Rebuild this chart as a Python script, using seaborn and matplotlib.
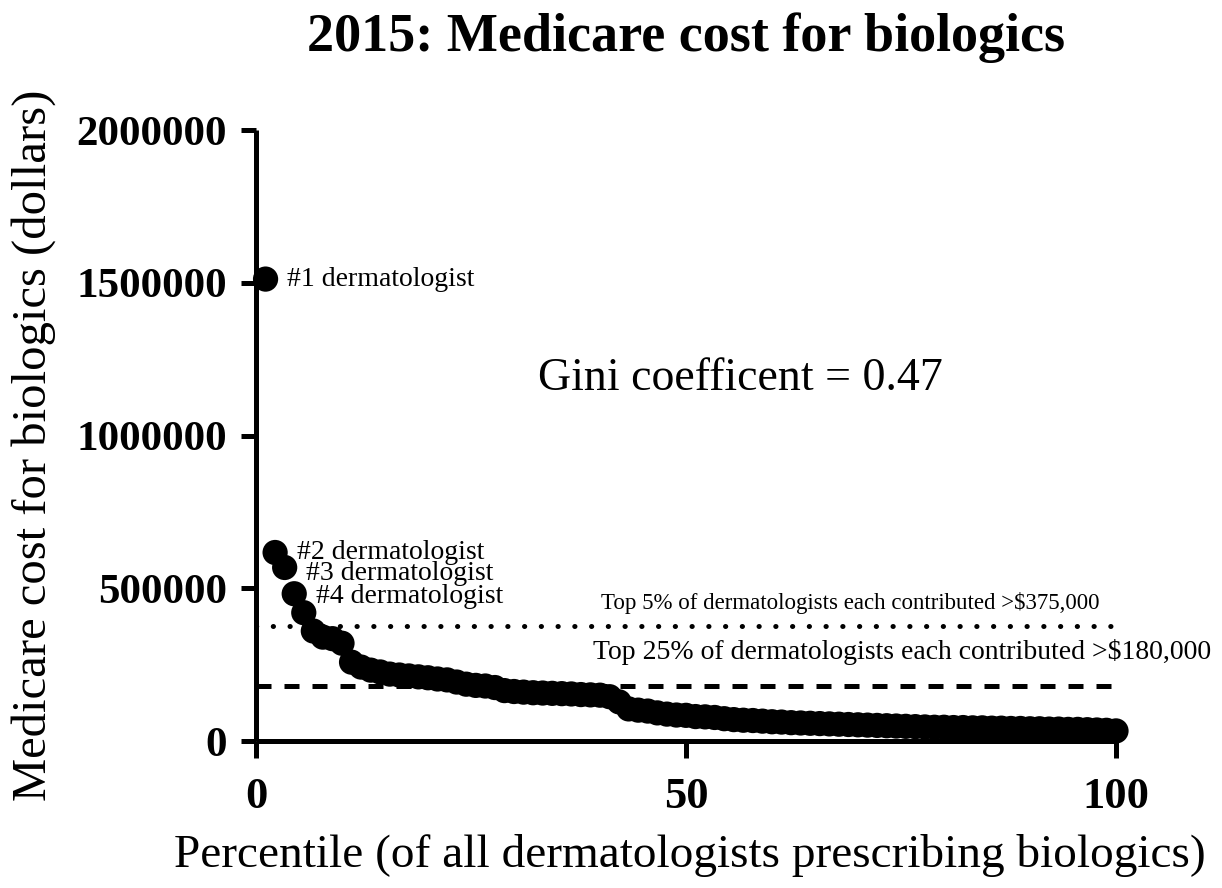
import numpy as np
import pandas as pd
import matplotlib
matplotlib.use("Agg")
import matplotlib.pyplot as plt
import seaborn as sns
from matplotlib.ticker import FixedLocator, StrMethodFormatter

# ---- data ----
cost = [
    1512000, 617000, 568000, 482000, 420000, 360000, 340000, 335000, 320000, 258000,
    242000, 232000, 226000, 219000, 216000, 213000, 210000, 207000, 203000, 200000,
    193000, 186000, 182000, 180000, 175000, 165000, 162000, 160000, 158000, 157000,
    156000, 155000, 154000, 152000, 151000, 150000, 145000, 128000, 105000, 101000,
    98000, 92000, 88000, 85000, 84000, 80000, 79000, 77000, 73000, 70000,
    68000, 67000, 65000, 63000, 62000, 60000, 59000, 58000, 57000, 56000,
    55000, 54000, 53000, 52000, 51000, 50000, 49000, 48000, 47000, 46000,
    45000, 45000, 44000, 44000, 43000, 43000, 42000, 42000, 41000, 41000,
    40000, 40000, 39000, 39000, 38000, 38000, 37000, 36000, 35000, 33000,
]
labels_top = ["#1 dermatologist", "#2 dermatologist", "#3 dermatologist", "#4 dermatologist"]
label_offsets_y = [0, 0, -4, -2]
thresholds = [375000, 180000]
threshold_texts = ["Top 5% of dermatologists each contributed >$375,000",
                   "Top 25% of dermatologists each contributed >$180,000"]
y_ticks = [0, 500000, 1000000, 1500000, 2000000]
x_ticks = [0, 50, 100]
title = "2015: Medicare cost for biologics"
xlabel = "Percentile (of all dermatologists prescribing biologics)"
ylabel = "Medicare cost for biologics (dollars)"
gini_text = "Gini coefficent = 0.47"

n = len(cost)
df = pd.DataFrame({"cost": cost})
df["rank"] = df["cost"].rank(ascending=False, method="first")
df["percentile"] = df["rank"] / n * 100

sns.set_theme(style="ticks")
plt.rcParams["font.family"] = ["Liberation Serif", "DejaVu Serif"]

fig = plt.figure(figsize=(12.22, 8.88), dpi=100)
ax = fig.add_axes([256 / 1222, 1 - 741 / 888, (1116 - 256) / 1222, (741 - 130) / 888])

lw = 3.6
ax.axhline(thresholds[0], color="black", lw=lw, linestyle=(0, (0.05, 3.3)),
           dash_capstyle="round", zorder=1)
ax.axhline(thresholds[1], color="black", lw=lw, linestyle=(0, (3.0, 2.6)), zorder=1)

sns.scatterplot(data=df, x="percentile", y="cost", ax=ax, color="black",
                s=330, edgecolor="none", linewidth=0, clip_on=False, zorder=3,
                legend=False)

ax.set_xlim(0, 100)
ax.set_ylim(0, 2000000)
ax.xaxis.set_major_locator(FixedLocator(x_ticks))
ax.yaxis.set_major_locator(FixedLocator(y_ticks))
ax.yaxis.set_major_formatter(StrMethodFormatter("{x:.0f}"))

for side in ["top", "right"]:
    ax.spines[side].set_visible(False)
for side in ["left", "bottom"]:
    ax.spines[side].set_linewidth(lw)
    ax.spines[side].set_color("black")
    ax.spines[side].set_capstyle("butt")

ax.tick_params(axis="x", length=12, width=lw, pad=14, labelsize=32, colors="black")
ax.tick_params(axis="y", length=11, width=lw, pad=10, labelsize=31, colors="black")
for lab in ax.get_xticklabels() + ax.get_yticklabels():
    lab.set_fontweight("bold")

ax.set_xlabel(xlabel, fontsize=34, color="black")
ax.set_ylabel(ylabel, fontsize=35, color="black")
ax.xaxis.set_label_coords(0.505, -0.152)
ax.yaxis.set_label_coords(-0.232, 0.484)
ax.grid(False)

fig.text(686 / 1222, 1 - 38 / 888, title, ha="center", va="center",
         fontsize=39, fontweight="bold", color="black")

# annotations for the top four points
top = df.sort_values("rank").head(4)
for (px, py), txt, dy in zip(top[["percentile", "cost"]].values, labels_top, label_offsets_y):
    ax.annotate(txt, xy=(px, py), xytext=(15.5, dy), textcoords="offset points",
                ha="left", va="center", fontsize=20, color="black", zorder=4)

ax.text(56.3, 1185000, gini_text, ha="center", va="center", fontsize=33, color="black")
ax.text(40.1, 451700, threshold_texts[0], ha="left", va="center", fontsize=16.5, color="black")
ax.text(39.2, 291300, threshold_texts[1], ha="left", va="center", fontsize=20, color="black")

fig.savefig("out.png", dpi=100, facecolor="white")
